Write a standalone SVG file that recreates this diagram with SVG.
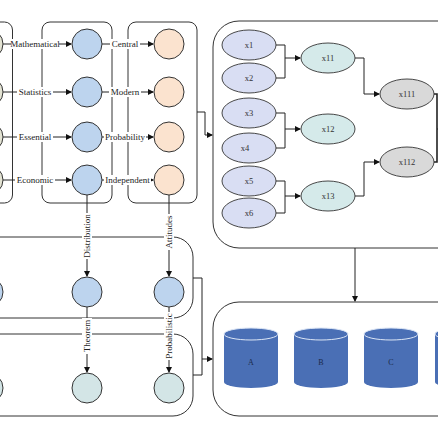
<svg xmlns="http://www.w3.org/2000/svg" width="438" height="438" viewBox="0 0 438 438">
<defs>
<marker id="ah" markerWidth="6" markerHeight="6" refX="5" refY="3" orient="auto" markerUnits="userSpaceOnUse">
<path d="M0,0 L6,3 L0,6 Z" fill="#111"/>
</marker>
<style>
.panel{fill:none;stroke:#333;stroke-width:1}
.c{stroke:#333;stroke-width:1}
.blue{fill:#bdd4ee}
.peach{fill:#fbe3cf}
.teal{fill:#d3e5e6}
.beige{fill:#e4e4d4}
.lav{fill:#d9def3;stroke:#333;stroke-width:0.9}
.tl{fill:#d5eaea;stroke:#333;stroke-width:0.9}
.gr{fill:#d9d9d9;stroke:#333;stroke-width:0.9}
.ln{fill:none;stroke:#222;stroke-width:1}
.bg{fill:#fff}
.lbl{font-family:"Liberation Serif","Times New Roman",serif;font-size:9px;fill:#222;text-anchor:middle;dominant-baseline:central}
.xl{font-family:"Liberation Serif","Times New Roman",serif;font-size:8.5px;fill:#333;text-anchor:middle;dominant-baseline:central}
.cyl{fill:#4a6fb5}
.cyltop{fill:#4a6fb5;stroke:#dce6f6;stroke-width:1}
.cl{font-family:"Liberation Serif","Times New Roman",serif;font-size:8px;fill:#1a2a4a;text-anchor:middle;dominant-baseline:central}
</style>
</defs>
<rect width="438" height="438" fill="#fff"/>

<g id="panels">
<rect class="panel" x="-60" y="22" width="72.5" height="181" rx="8"/>
<rect class="panel" x="42" y="22" width="70" height="181" rx="8"/>
<rect class="panel" x="128" y="22" width="69" height="181" rx="8"/>
<rect class="panel" x="-60" y="237" width="253" height="81" rx="20"/>
<rect class="panel" x="-60" y="334" width="253" height="82" rx="20"/>
<rect class="panel" x="213" y="21" width="260" height="227" rx="26"/>
<rect class="panel" x="213" y="302" width="260" height="114" rx="26"/>
</g>

<g id="connectors">
<line class="ln" x1="3" y1="44" x2="71" y2="44" marker-end="url(#ah)"/>
<line class="ln" x1="3" y1="92" x2="71" y2="92" marker-end="url(#ah)"/>
<line class="ln" x1="3" y1="137" x2="71" y2="137" marker-end="url(#ah)"/>
<line class="ln" x1="3" y1="180" x2="71" y2="180" marker-end="url(#ah)"/>
<line class="ln" x1="102" y1="44" x2="153" y2="44" marker-end="url(#ah)"/>
<line class="ln" x1="102" y1="92" x2="153" y2="92" marker-end="url(#ah)"/>
<line class="ln" x1="102" y1="137" x2="153" y2="137" marker-end="url(#ah)"/>
<line class="ln" x1="102" y1="180" x2="153" y2="180" marker-end="url(#ah)"/>
<line class="ln" x1="87" y1="195" x2="87" y2="276" marker-end="url(#ah)"/>
<line class="ln" x1="169" y1="195" x2="169" y2="276" marker-end="url(#ah)"/>
<line class="ln" x1="87" y1="307" x2="87" y2="372" marker-end="url(#ah)"/>
<line class="ln" x1="169" y1="307" x2="169" y2="372" marker-end="url(#ah)"/>
<path class="ln" d="M197,112 H205 V135 H212" marker-end="url(#ah)"/>
<path class="ln" d="M193,278 H202 V375 H193"/>
<path class="ln" d="M202,359 H212" marker-end="url(#ah)"/>
<path class="ln" d="M355,248 V301" marker-end="url(#ah)"/>
<path class="ln" d="M276,45 H285 V78 H276"/>
<path class="ln" d="M285,58 H300" marker-end="url(#ah)"/>
<path class="ln" d="M276,113 H285 V148 H276"/>
<path class="ln" d="M285,129 H300" marker-end="url(#ah)"/>
<path class="ln" d="M276,181 H285 V213 H276"/>
<path class="ln" d="M285,196 H300" marker-end="url(#ah)"/>
<path class="ln" d="M355,58 H364 V94 H379" marker-end="url(#ah)"/>
<path class="ln" d="M355,196 H364 V162 H379" marker-end="url(#ah)"/>
<path class="ln" d="M434,94 H437 V162 H434" style="stroke-width:1.6"/>
<path class="ln" d="M437,129 H443" marker-end="url(#ah)"/>

<rect class="bg" x="11" y="39" width="48" height="10"/>
<text class="lbl" x="35" y="44">Mathematical</text>
<rect class="bg" x="17" y="87" width="36" height="10"/>
<text class="lbl" x="35" y="92">Statistics</text>
<rect class="bg" x="17" y="132" width="36" height="10"/>
<text class="lbl" x="35" y="137">Essential</text>
<rect class="bg" x="15" y="175" width="40" height="10"/>
<text class="lbl" x="35" y="180">Economic</text>
<rect class="bg" x="110" y="39" width="30" height="10"/>
<text class="lbl" x="125" y="44">Central</text>
<rect class="bg" x="109" y="87" width="32" height="10"/>
<text class="lbl" x="125" y="92">Modern</text>
<rect class="bg" x="104" y="132" width="42" height="10"/>
<text class="lbl" x="125" y="137">Probability</text>
<rect class="bg" x="104" y="175" width="47" height="10"/>
<text class="lbl" x="127.5" y="180">Independent</text>

<rect class="bg" x="82" y="213" width="10" height="46"/>
<text class="lbl" transform="translate(87,236) rotate(-90)">Distribution</text>
<rect class="bg" x="164" y="214" width="10" height="36"/>
<text class="lbl" transform="translate(169,232) rotate(-90)">Attitudes</text>
<rect class="bg" x="82" y="318" width="10" height="36"/>
<text class="lbl" transform="translate(87,336) rotate(-90)">Theorem</text>
<rect class="bg" x="164" y="312" width="10" height="48"/>
<text class="lbl" transform="translate(169,336) rotate(-90)">Probabilistic</text>
</g>

<g id="left-partial">
<circle class="c beige" cx="-12" cy="44" r="15"/>
<circle class="c beige" cx="-12" cy="92" r="15"/>
<circle class="c beige" cx="-12" cy="137" r="15"/>
<circle class="c beige" cx="-12" cy="180" r="15"/>
<circle class="c blue" cx="-12" cy="292" r="15"/>
<circle class="c teal" cx="-12" cy="388" r="15"/>
</g>

<g id="blue-nodes">
<circle class="c blue" cx="87" cy="44" r="15"/>
<circle class="c blue" cx="87" cy="92" r="15"/>
<circle class="c blue" cx="87" cy="137" r="15"/>
<circle class="c blue" cx="87" cy="180" r="15"/>
</g>
<g id="peach-nodes">
<circle class="c peach" cx="169" cy="44" r="15"/>
<circle class="c peach" cx="169" cy="92" r="15"/>
<circle class="c peach" cx="169" cy="137" r="15"/>
<circle class="c peach" cx="169" cy="180" r="15"/>
</g>
<g id="lower-nodes">
<circle class="c blue" cx="87" cy="292" r="15"/>
<circle class="c blue" cx="169" cy="292" r="15"/>
<circle class="c teal" cx="87" cy="388" r="15"/>
<circle class="c teal" cx="169" cy="388" r="15"/>
</g>

<g id="x1"><ellipse class="lav" cx="249" cy="45" rx="27" ry="15"/><text class="xl" x="249" y="45">x1</text></g>
<g id="x2"><ellipse class="lav" cx="249" cy="78" rx="27" ry="15"/><text class="xl" x="249" y="78">x2</text></g>
<g id="x3"><ellipse class="lav" cx="249" cy="113" rx="27" ry="15"/><text class="xl" x="249" y="113">x3</text></g>
<g id="x4"><ellipse class="lav" cx="249" cy="148" rx="27" ry="15"/><text class="xl" x="245" y="148">x4</text></g>
<g id="x5"><ellipse class="lav" cx="249" cy="181" rx="27" ry="15"/><text class="xl" x="249" y="181">x5</text></g>
<g id="x6"><ellipse class="lav" cx="249" cy="213" rx="27" ry="15"/><text class="xl" x="249" y="213">x6</text></g>
<g id="x11"><ellipse class="tl" cx="328" cy="58" rx="27" ry="15"/><text class="xl" x="328" y="58">x11</text></g>
<g id="x12"><ellipse class="tl" cx="328" cy="129" rx="27" ry="15"/><text class="xl" x="328" y="129">x12</text></g>
<g id="x13"><ellipse class="tl" cx="328" cy="196" rx="27" ry="15"/><text class="xl" x="328" y="196">x13</text></g>
<g id="x111"><ellipse class="gr" cx="407" cy="94" rx="27" ry="15"/><text class="xl" x="407" y="94">x111</text></g>
<g id="x112"><ellipse class="gr" cx="407" cy="162" rx="27" ry="15"/><text class="xl" x="407" y="162">x112</text></g>

<g id="cyl-A">
<path class="cyl" d="M224,334 V382 A27,6 0 0 0 278,382 V334 Z"/>
<ellipse class="cyltop" cx="251" cy="334" rx="27" ry="6"/>
<text class="cl" x="251" y="362">A</text>
</g>
<g id="cyl-B">
<path class="cyl" d="M294,334 V382 A27,6 0 0 0 348,382 V334 Z"/>
<ellipse class="cyltop" cx="321" cy="334" rx="27" ry="6"/>
<text class="cl" x="321" y="362">B</text>
</g>
<g id="cyl-C">
<path class="cyl" d="M364,334 V382 A27,6 0 0 0 418,382 V334 Z"/>
<ellipse class="cyltop" cx="391" cy="334" rx="27" ry="6"/>
<text class="cl" x="391" y="362">C</text>
</g>
<g id="cyl-D">
<path class="cyl" d="M435,334 V382 A27,6 0 0 0 489,382 V334 Z"/>
<ellipse class="cyltop" cx="462" cy="334" rx="27" ry="6"/>
</g>
</svg>
